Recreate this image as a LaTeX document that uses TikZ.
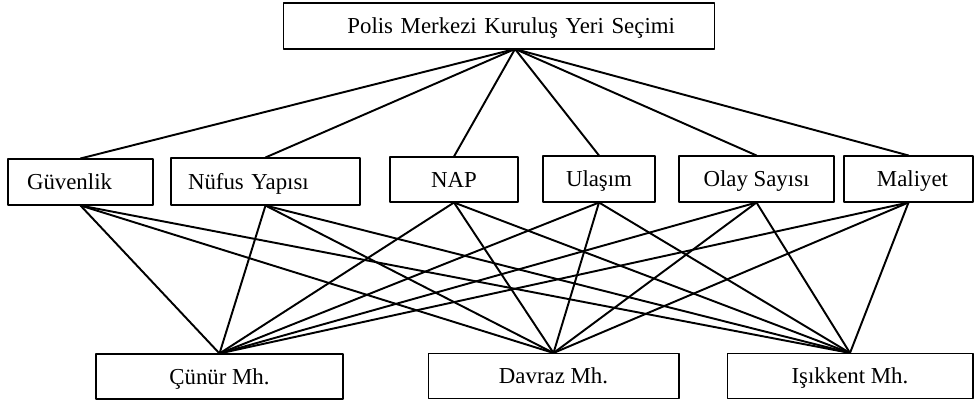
\documentclass[tikz,border=0pt]{standalone}
\usepackage{fontspec}
\setmainfont{Liberation Serif}
\begin{document}
\begin{tikzpicture}[x=0.02cm, y=-0.02cm, line cap=round, line join=round,
  kutu/.style={draw, line width=0.6pt, inner ysep=0pt, text height=11pt, text depth=2pt,
    font=\fontsize{13}{15}\selectfont},
  bag/.style={line width=1.1pt}]
  \useasboundingbox (0,0) rectangle (974,402);

  % amac
  \node[kutu, minimum height=0.92cm, inner xsep=0.8cm, text width=7.04cm, align=right] (hedef) at (499,26) {Polis Merkezi Kuruluş Yeri Seçimi};
  \coordinate (hedefalt) at (515,49);

  % kriterler
  \node[kutu, minimum height=0.92cm, inner xsep=0.38cm, text width=2.14cm, align=left] (guv) at (80.5,182) {Güvenlik};
  \node[kutu, minimum height=0.94cm, inner xsep=0.34cm, text width=3.1cm, align=left] (nuf) at (265.5,181.5) {Nüfus Yapısı};
  \node[kutu, minimum height=0.9cm, minimum width=2.56cm] (nap) at (454,179.5) {NAP};
  \node[kutu, minimum height=0.92cm, minimum width=2.24cm] (ula) at (599,179) {Ulaşım};
  \node[kutu, minimum height=0.92cm, minimum width=3.1cm] (olay) at (756.5,179) {Olay Sayısı};
  \node[kutu, minimum height=0.92cm, inner xsep=0.5cm, text width=1.58cm, align=right] (mal) at (908.5,179) {Maliyet};

  % alternatifler
  \node[kutu, minimum height=0.9cm, minimum width=4.94cm] (cun) at (219.5,376.5) {Çünür Mh.};
  \node[kutu, minimum height=0.9cm, minimum width=5.02cm] (dav) at (553.5,376) {Davraz Mh.};
  \node[kutu, minimum height=0.9cm, minimum width=4.92cm] (isk) at (850,376) {Işıkkent Mh.};

  \foreach \k in {guv,nuf,nap,ula,olay,mal}{
    \draw[bag] (hedefalt) -- (\k.north);
    \foreach \a in {cun,dav,isk}
      \draw[bag] (\k.south) -- (\a.north);
  }
\end{tikzpicture}
\end{document}
